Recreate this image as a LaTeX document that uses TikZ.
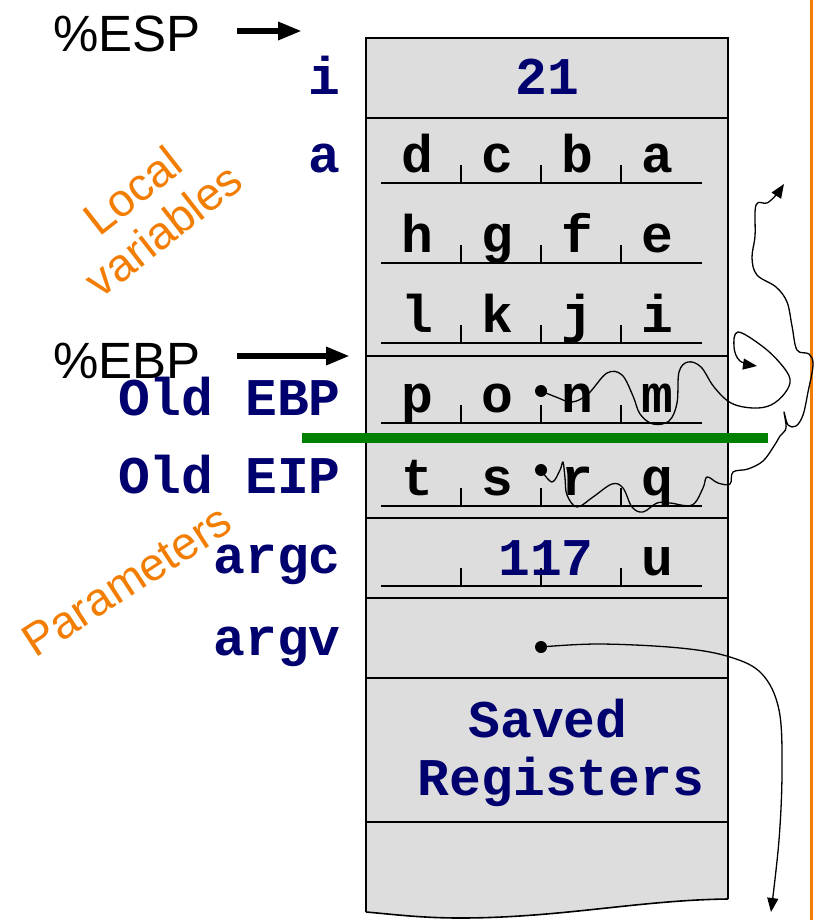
\documentclass[tikz,border=0pt]{standalone}
\usepackage{fontspec}
\setmainfont{Liberation Sans}
\newfontfamily\codefont{Liberation Mono}
\usetikzlibrary{arrows.meta}
\definecolor{navy}{RGB}{0,0,110}
\definecolor{slotgray}{RGB}{221,221,221}
\definecolor{tagorange}{RGB}{242,125,0}
\definecolor{cutgreen}{RGB}{0,128,0}

% one row of four byte cells with its underline and separators
\newcommand\byterow[6]{%
  \node[cell] (#2a) at (417,#1) {#3};
  \node[cell] (#2b) at (497,#1) {#4};
  \node[cell] (#2c) at (577,#1) {#5};
  \node[cell] (#2d) at (657,#1) {#6};
  \draw[rule] (381,#1+11) -- (702,#1+11);
  \foreach \tx in {461,541,621} \draw[rule] (\tx,#1+11) -- (\tx,#1-7);
}

\begin{document}
\begin{tikzpicture}[x=1pt,y=-1pt,
  cell/.style={font=\codefont\bfseries\fontsize{53}{60}\selectfont, inner sep=0pt, anchor=base},
  navycell/.style={cell, text=navy},
  slotlabel/.style={font=\codefont\bfseries\fontsize{53}{60}\selectfont, inner sep=0pt, anchor=base east, text=navy},
  reglabel/.style={font=\fontsize{51}{56}\selectfont, inner sep=0pt, anchor=base west},
  regarrow/.style={line width=6pt, -{Triangle[length=24pt,width=17pt]}},
  sidetag/.style={font=\fontsize{46}{50}\selectfont, text=tagorange, align=center, inner sep=0pt},
  rule/.style={line width=1.3pt},
  frame/.style={line width=1.6pt},
  wire/.style={line width=1.3pt, line join=round},
  wirearrow/.style={wire, -{Triangle[length=14pt,width=11pt]}},
  ptr/.style={circle, fill=black, inner sep=0pt, minimum size=12pt}
]
\useasboundingbox (0,0) rectangle (814,920);

% stack frame body with torn bottom edge
\fill[slotgray] (366,38) -- (728,38) -- (728,899)
  .. controls (640,900) and (560,918) .. (460,918)
  .. controls (420,918) and (390,914) .. (366,912) -- cycle;
\draw[frame] (366,912) -- (366,38) -- (728,38) -- (728,899);
\draw[frame] (728,899) .. controls (640,900) and (560,918) .. (460,918)
  .. controls (420,918) and (390,914) .. (366,912);
\foreach \ry in {118,356,437,518,598,678,822}
  \draw[frame] (366,\ry) -- (728,\ry);

% slot contents
\node[navycell] (val21) at (547,95) {21};
\byterow{172}{ra}{d}{c}{b}{a}
\byterow{252}{rb}{h}{g}{f}{e}
\byterow{332}{rc}{l}{k}{j}{i}
\byterow{412}{rd}{p}{o}{n}{m}
\byterow{495}{re}{t}{s}{r}{q}
\draw[rule] (381,586) -- (702,586);
\foreach \tx in {461,541,621} \draw[rule] (\tx,586) -- (\tx,568);
\node[navycell] (val117) at (546,575) {117};
\node[cell] (valu) at (657,575) {u};
\node[navycell] (saved) at (548,737) {Saved};
\node[navycell] (registers) at (561,795) {Registers};

% slot names
\node[slotlabel] (li) at (341,95) {i};
\node[slotlabel] (la) at (341,172) {a};
\node[slotlabel] (lebp) at (341,415) {Old EBP};
\node[slotlabel] (leip) at (341,493) {Old EIP};
\node[slotlabel] (largc) at (341,573) {argc};
\node[slotlabel] (largv) at (341,655) {argv};

% register pointers
\node[reglabel] (esp) at (53,52) {\%ESP};
\node[reglabel] (ebp) at (53,378) {\%EBP};
\coordinate (espTail) at (237,31);
\coordinate (espTip) at (302,31);
\coordinate (ebpTail) at (237,356);
\coordinate (ebpTip) at (350,356);
\draw[regarrow] (espTail) -- (espTip);
\draw[regarrow] (ebpTail) -- (ebpTip);

% region captions
\node[sidetag, rotate=38] (localtag) at (148,210) {Local\\variables};
\node[sidetag, rotate=33] (paramtag) at (127,581) {Parameters};

% boundary marks
\draw[tagorange, line width=3pt] (811,0) -- (811,920);
\draw[cutgreen, line width=10pt] (302,438) -- (768,438);

% pointer origins
\coordinate (dotN) at (541,391);
\coordinate (dotR) at (541,470);
\coordinate (dotV) at (541,647);

% scribbled pointer from Old EBP
\draw[wirearrow] plot[smooth, tension=0.6] coordinates {
  (dotN) (556,397) (572,402) (588,394) (607,373) (622,375) (633,396)
  (640,414) (653,424) (669,421) (677,403) (679,372) (688,362) (701,367)
  (714,387) (731,403) (753,408) (771,405) (785,393) (790,379) (780,363)
  (762,346) (738,332) (734,347) (740,361) (757,366)};

% scribbled pointer from Old EIP
\draw[wirearrow] plot[smooth, tension=0.6] coordinates {
  (dotR) (552,482) (560,470) (563,462) (565,478) (567,495) (577,507)
  (593,497) (612,484) (623,488) (632,507) (643,512) (657,503) (670,503)
  (692,505) (703,488) (707,477) (718,483) (730,484) (733,472) (748,469)
  (763,461) (774,446) (780,436) (786,428) (784,412) (788,425) (796,426)
  (803,415) (808,392) (813,365) (809,354) (797,350) (792,326) (787,302)
  (776,287) (757,275) (752,258) (755,236) (756,205) (767,203) (776,195)
  (784,184)};

% argv pointer
\draw[wirearrow] plot[smooth, tension=0.6] coordinates {
  (dotV) (600,644) (680,648) (730,657) (762,674) (779,710) (782,770)
  (779,840) (771,912)};

\node[ptr] (ptrN) at (dotN) {};
\node[ptr] (ptrR) at (dotR) {};
\node[ptr] (ptrV) at (dotV) {};
\end{tikzpicture}
\end{document}
